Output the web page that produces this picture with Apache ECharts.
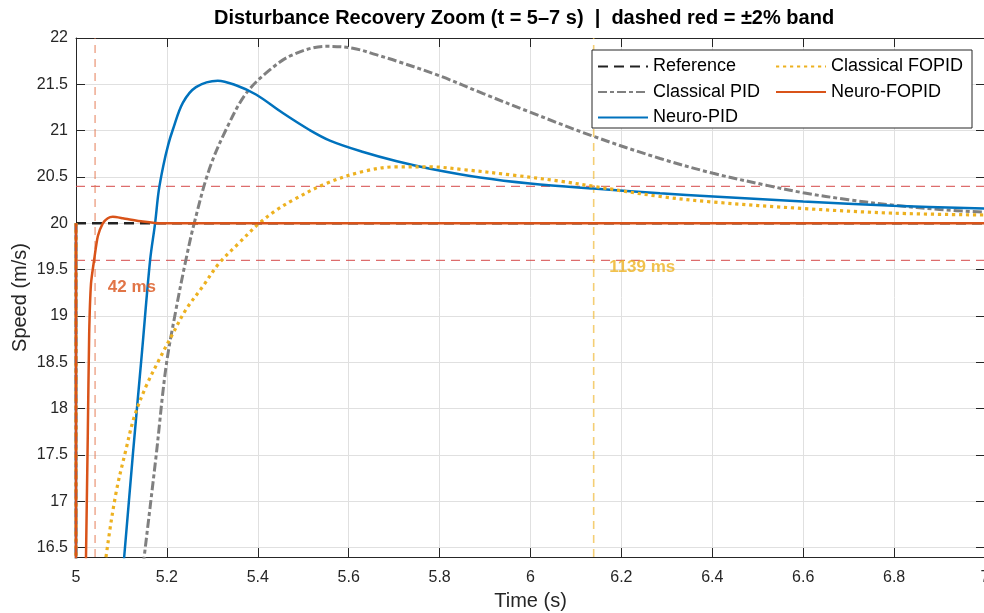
<!DOCTYPE html>
<html>
<head>
<meta charset="utf-8">
<script src="https://cdn.jsdelivr.net/npm/echarts@6/dist/echarts.min.js"></script>
<style>
  html, body { margin: 0; padding: 0; background: #fff; }
  #chart { width: 984px; height: 613px; }
</style>
</head>
<body>
<div id="chart"></div>
<script>
// 时间轴刻度和速度刻度
const xTicks = [5, 5.2, 5.4, 5.6, 5.8, 6, 6.2, 6.4, 6.6, 6.8, 7]
const yTicks = [16.5, 17, 17.5, 18, 18.5, 19, 19.5, 20, 20.5, 21, 21.5, 22]

// 参考值
const refT = [5, 7]
const refV = [20, 20]

// Classical PID (前几个点在坐标区下方, 只为了画出跌落)
const cpidT = [5, 5, 5.126, 5.150, 5.176, 5.198, 5.220, 5.242, 5.260, 5.293, 5.330, 5.374, 5.425, 5.477, 5.550, 5.609, 5.660, 5.706, 5.801, 5.896, 5.999, 6.138, 6.285, 6.402, 6.520, 6.600, 6.700, 6.800, 6.900, 7.0]
const cpidV = [20, 15.4, 15.4, 16.4, 17.48, 18.45, 19.07, 19.61, 20.00, 20.58, 21.01, 21.40, 21.65, 21.82, 21.91, 21.89, 21.82, 21.75, 21.59, 21.40, 21.20, 20.94, 20.70, 20.54, 20.41, 20.33, 20.255, 20.195, 20.15, 20.12]

// Neuro-PID
const npidT = [5, 5, 5.088, 5.106, 5.125, 5.145, 5.163, 5.174, 5.182, 5.192, 5.203, 5.213, 5.235, 5.264, 5.312, 5.352, 5.396, 5.455, 5.513, 5.560, 5.632, 5.706, 5.779, 5.889, 5.999, 6.138, 6.285, 6.402, 6.600, 6.798, 7.0]
const npidV = [20, 15.4, 15.4, 16.4, 17.5, 18.6, 19.6, 20.0, 20.35, 20.62, 20.85, 21.01, 21.30, 21.47, 21.54, 21.49, 21.39, 21.19, 21.01, 20.89, 20.77, 20.67, 20.59, 20.495, 20.43, 20.375, 20.325, 20.29, 20.235, 20.19, 20.16]

// Classical FOPID
const cfoT = [5, 5, 5.040, 5.066, 5.088, 5.110, 5.128, 5.154, 5.183, 5.213, 5.242, 5.279, 5.315, 5.359, 5.403, 5.440, 5.477, 5.550, 5.632, 5.706, 5.779, 5.852, 5.962, 6.072, 6.138, 6.285, 6.402, 6.600, 6.798, 7.0]
const cfoV = [20, 15.4, 15.4, 16.4, 17.09, 17.56, 17.91, 18.24, 18.53, 18.81, 19.07, 19.32, 19.57, 19.79, 20.00, 20.14, 20.25, 20.43, 20.56, 20.61, 20.61, 20.58, 20.52, 20.45, 20.40, 20.29, 20.23, 20.16, 20.11, 20.09]

// Neuro-FOPID
const nfoT = [5, 5, 5.019, 5.022, 5.026, 5.029, 5.033, 5.040, 5.048, 5.059, 5.070, 5.081, 5.103, 5.147, 5.19, 5.3, 7.0]
const nfoV = [20, 15.4, 15.4, 16.4, 17.74, 18.81, 19.35, 19.61, 19.86, 20.00, 20.055, 20.07, 20.055, 20.02, 20.00, 20.0, 20.0]

// ±2% 带和调节时间
const bandLevels = [19.6, 20.4]
const settleTimes = [5.042, 6.139]
const settleLabels = ['42 ms', '1139 ms']
const labelT = [5.07, 6.173]
const labelV = [19.31, 19.53]

const FONT = 'Liberation Sans'
const AXIS = '#262626'
const BLUE = '#0072BD'
const ORANGE = '#D95319'
const YELLOW = '#EDB120'
const GRAY = '#808080'

const zip = (t, v) => t.map((x, i) => [x, v[i]])

const chart = echarts.init(document.getElementById('chart'))

const bandSeries = bandLevels.map(b => ({
  type: 'line',
  silent: true,
  symbol: 'none',
  data: [[5, b], [7, b]],
  lineStyle: { color: 'rgba(212,72,72,0.8)', width: 1.3, type: [9, 6] },
  z: 1
}))

const settleColors = ['rgba(228,120,80,0.6)', 'rgba(240,190,70,0.75)']
const settleSeries = settleTimes.map((t, i) => ({
  type: 'line',
  silent: true,
  symbol: 'none',
  data: [[t, 16.4], [t, 22]],
  lineStyle: { color: settleColors[i], width: 1.6, type: [8, 6] },
  z: 1
}))

// 调节时间文字
const labelColors = [ORANGE, YELLOW]
const labelSeries = {
  type: 'scatter',
  silent: true,
  symbolSize: 0,
  data: settleLabels.map((s, i) => ({
    value: [labelT[i], labelV[i]],
    name: s,
    label: { color: labelColors[i] }
  })),
  label: {
    show: true,
    position: 'right',
    distance: 0,
    formatter: p => p.name,
    fontFamily: FONT,
    fontWeight: 'bold',
    fontSize: 17
  },
  z: 6
}

const curve = (name, t, v, color, width, type, smooth) => ({
  name,
  type: 'line',
  symbol: 'none',
  smooth,
  data: zip(t, v),
  lineStyle: { color, width, type },
  itemStyle: { color },
  z: 3
})

const legendBase = {
  orient: 'vertical',
  top: 57.5,
  padding: 0,
  itemGap: 7.5,
  itemWidth: 50,
  itemHeight: 14,
  itemStyle: { opacity: 0 },
  textStyle: { fontFamily: FONT, fontSize: 18, color: '#000' },
  z: 10
}

const option = {
  animation: false,
  backgroundColor: '#fff',
  title: {
    text: 'Disturbance Recovery Zoom (t = 5\u20137 s)  |  dashed red = \u00b12% band',
    left: 214,
    top: 8,
    padding: 0,
    textStyle: { fontFamily: FONT, fontWeight: 'bold', fontSize: 20, color: '#000' }
  },
  grid: { left: 76, right: -1, top: 38, bottom: 56, outerBoundsMode: 'none', containLabel: false },
  legend: [
    Object.assign({ data: ['Reference', 'Classical PID', 'Neuro-PID'], left: 597 }, legendBase),
    Object.assign({ data: ['Classical FOPID', 'Neuro-FOPID'], left: 775 }, legendBase)
  ],
  graphic: [{
    type: 'rect',
    z: 8,
    shape: { x: 592, y: 50, width: 380, height: 78 },
    style: { fill: '#fff', stroke: AXIS, lineWidth: 1 }
  }],
  xAxis: [
    {
      type: 'value',
      min: 5,
      max: 7,
      name: 'Time (s)',
      nameLocation: 'middle',
      nameGap: 34,
      nameTextStyle: { fontFamily: FONT, fontSize: 20, color: AXIS },
      axisLine: { lineStyle: { color: AXIS, width: 1 } },
      axisTick: { inside: true, length: 9, customValues: xTicks, lineStyle: { color: AXIS } },
      axisLabel: {
        fontFamily: FONT, fontSize: 16, color: AXIS, margin: 13,
        customValues: xTicks,
        formatter: v => String(Math.round(v * 10) / 10)
      },
      splitLine: { show: true, lineStyle: { color: '#e0e0e0', width: 1 } }
    },
    {
      type: 'value',
      position: 'top',
      min: 5,
      max: 7,
      axisLine: { lineStyle: { color: AXIS, width: 1 } },
      axisTick: { inside: true, length: 9, customValues: xTicks, lineStyle: { color: AXIS } },
      axisLabel: { show: false, customValues: xTicks },
      splitLine: { show: false }
    }
  ],
  yAxis: [
    {
      type: 'value',
      min: 16.4,
      max: 22,
      name: 'Speed (m/s)',
      nameLocation: 'middle',
      nameGap: 46,
      nameMoveOverlap: false,
      nameTextStyle: { fontFamily: FONT, fontSize: 20, color: AXIS },
      axisLine: { show: true, lineStyle: { color: AXIS, width: 1 } },
      axisTick: { show: true, inside: true, length: 9, customValues: yTicks, lineStyle: { color: AXIS } },
      axisLabel: {
        fontFamily: FONT, fontSize: 16, color: AXIS, margin: 8,
        customValues: yTicks,
        formatter: v => String(v)
      },
      splitLine: { show: true, lineStyle: { color: '#e0e0e0', width: 1 } }
    },
    {
      type: 'value',
      position: 'right',
      min: 16.4,
      max: 22,
      axisLine: { show: true, lineStyle: { color: AXIS, width: 1 } },
      axisTick: { show: true, inside: true, length: 9, customValues: yTicks, lineStyle: { color: AXIS } },
      axisLabel: { show: false, customValues: yTicks },
      splitLine: { show: false }
    }
  ],
  series: [
    ...bandSeries,
    ...settleSeries,
    curve('Reference', refT, refV, '#222', 2.5, [10, 6], false),
    curve('Classical PID', cpidT, cpidV, GRAY, 3, [9, 3, 4, 3], 0.35),
    curve('Neuro-PID', npidT, npidV, BLUE, 2.5, 'solid', 0.35),
    curve('Classical FOPID', cfoT, cfoV, YELLOW, 3.2, [3.2, 3.8], 0.35),
    curve('Neuro-FOPID', nfoT, nfoV, ORANGE, 2.5, 'solid', 0.2),
    labelSeries
  ]
}

chart.setOption(option)
</script>
</body>
</html>
